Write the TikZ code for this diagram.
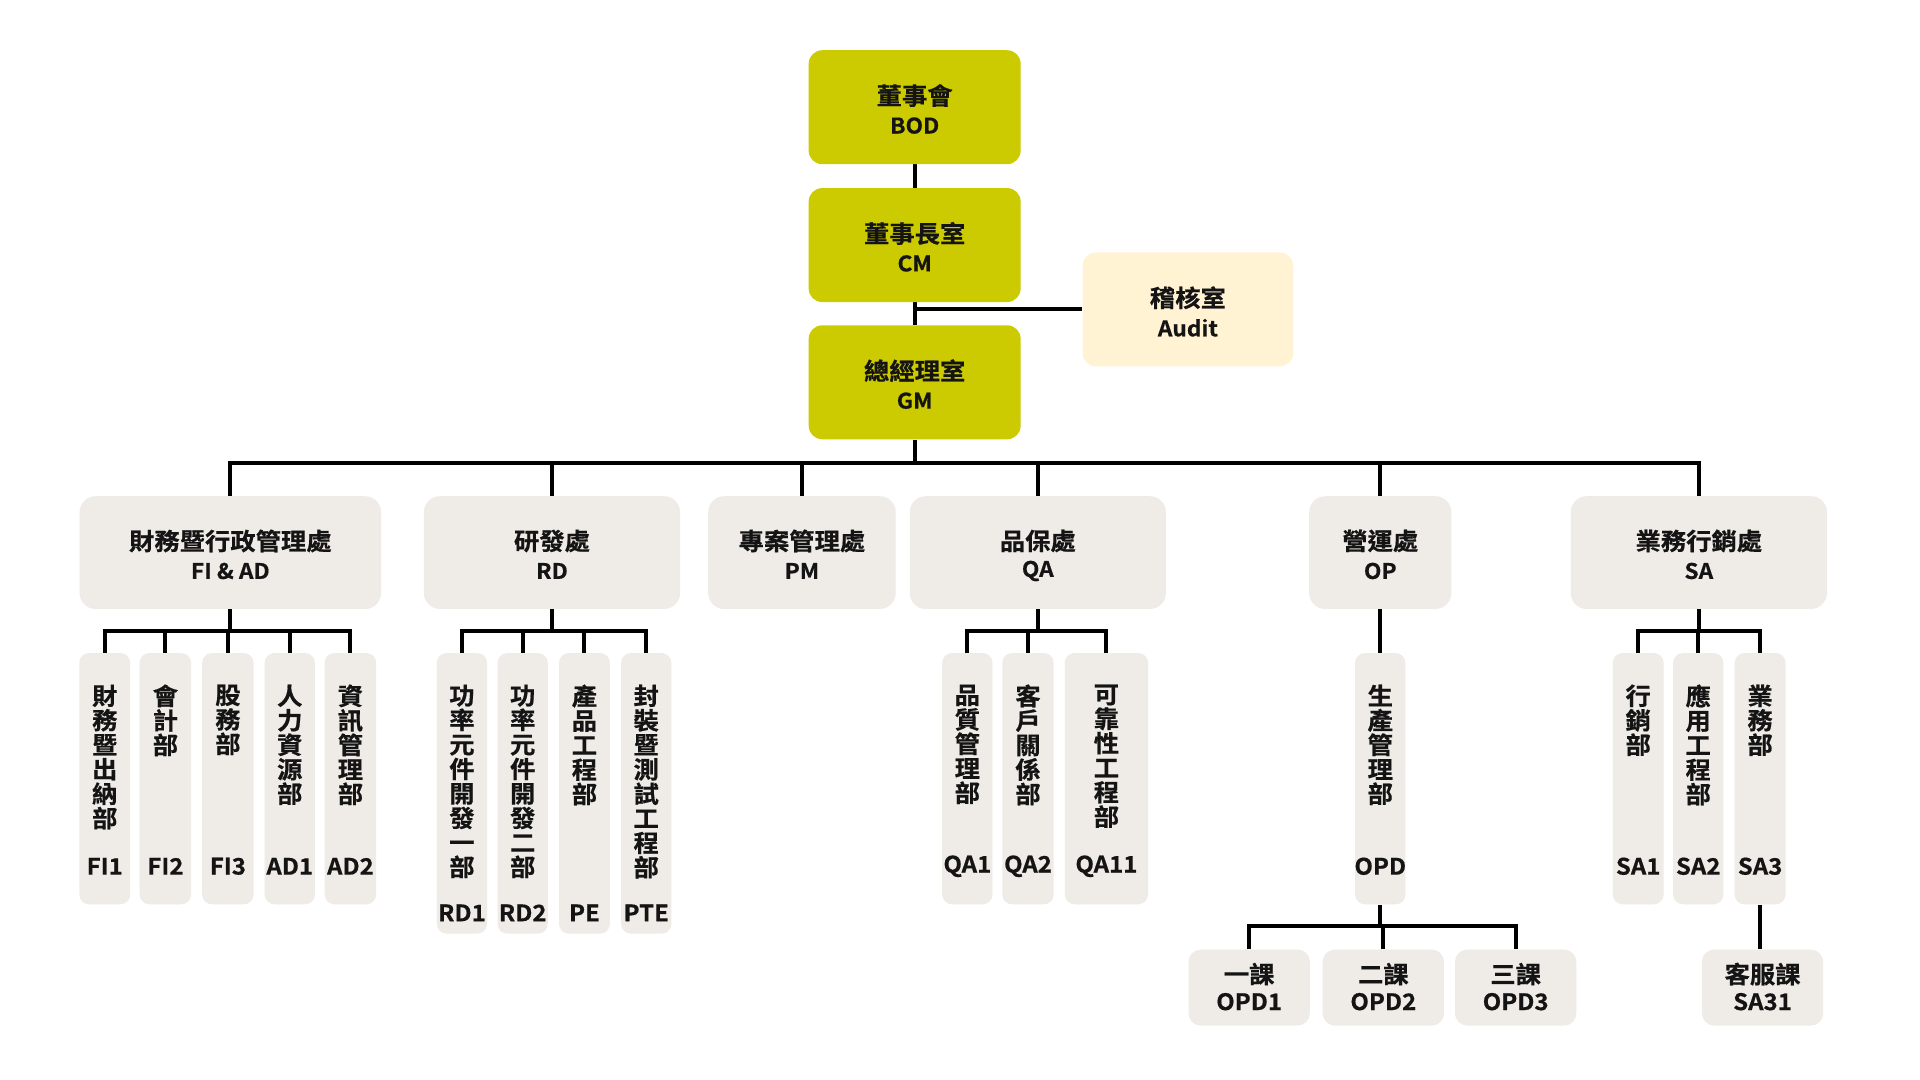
\documentclass[tikz,border=0pt]{standalone}
\usepackage{fontspec}
\newfontfamily\bcjk{Noto Sans CJK TC Bold}[FakeStretch=1.06, FakeBold=0.6]
\definecolor{topcol}{RGB}{204,202,0}
\definecolor{boxcol}{RGB}{239,235,230}
\definecolor{auditcol}{RGB}{255,243,212}
\definecolor{ink}{RGB}{20,20,20}
\pgfdeclarelayer{bg}
\pgfsetlayers{bg,main}
\tikzset{
  lvlone/.style={fill=topcol, rounded corners=11pt, inner sep=0pt},
  auditbox/.style={fill=auditcol, rounded corners=11pt, inner sep=0pt},
  lvltwo/.style={fill=boxcol, rounded corners=13pt, inner sep=0pt},
  subthree/.style={fill=boxcol, rounded corners=8pt, inner sep=0pt},
  subfour/.style={fill=boxcol, rounded corners=10pt, inner sep=0pt, minimum width=99pt, minimum height=62pt},
  zhtxt/.style={font=\bcjk\fontsize{19.5}{20}\selectfont, inner sep=0pt, text=ink},
  entxt/.style={font=\bcjk\fontsize{17.5}{20}\selectfont, inner sep=0pt, text=ink},
  codetxt/.style={font=\bcjk\fontsize{18.5}{20}\selectfont, inner sep=0pt, text=ink},
  vtxt/.style={font=\bcjk\fontsize{19.5}{20}\selectfont, inner sep=0pt, align=center, text=ink},
  conn/.style={line width=3.2pt, draw=black}
}
% name, style, x, y, w, h, zh, en
\newcommand\orgunit[8]{%
  \node[#2, minimum width=#5pt, minimum height=#6pt] (#1) at (#3,#4) {};
  \node[zhtxt] (#1-zh) at ([yshift=9.5pt]#1.center) {#7};
  \node[entxt] (#1-en) at ([yshift=-15pt]#1.center) {#8};}
% name, x, w, cy, h, chars, code, codey
\newcommand\vdept[8]{%
  \node[subthree, minimum width=#3pt, minimum height=#5pt] (#1) at (#2,#4) {};
  \node[vtxt, anchor=north] (#1-zh) at (#2,558.5) {#6};
  \node[codetxt] (#1-en) at (#2,#8) {#7};}
% name, x, zh, en
\newcommand\sect[4]{%
  \node[subfour] (#1) at (#2,806) {};
  \node[zhtxt] (#1-zh) at ([yshift=11pt]#1.center) {#3};
  \node[codetxt] (#1-en) at ([yshift=-11.5pt]#1.center) {#4};}
\begin{document}
\begin{tikzpicture}[x=1pt,y=-1pt]
\begin{pgfonlayer}{bg}
\fill[white] (0,0) rectangle (1567,881.4);
\end{pgfonlayer}
\useasboundingbox (0,0) rectangle (1567,881.4);

% level 1
\orgunit{bod}{lvlone}{746.5}{87.5}{173}{93}{董事會}{BOD}
\orgunit{cm}{lvlone}{746.5}{200}{173}{93}{董事長室}{CM}
\orgunit{gm}{lvlone}{746.5}{312}{173}{93}{總經理室}{GM}
\orgunit{audit}{auditbox}{969.5}{252.5}{172}{93}{稽核室}{Audit}

% level 2
\orgunit{fiad}{lvltwo}{188}{451}{246}{92}{財務暨行政管理處}{FI \& AD}
\orgunit{rd}{lvltwo}{450.5}{451}{209}{92}{研發處}{RD}
\orgunit{pm}{lvltwo}{654.5}{451}{153}{92}{專案管理處}{PM}
\orgunit{qa}{lvltwo}{847}{451}{209}{92}{品保處}{QA}
\orgunit{op}{lvltwo}{1126.5}{451}{116}{92}{營運處}{OP}
\orgunit{sa}{lvltwo}{1386.5}{451}{209}{92}{業務行銷處}{SA}

% level 3
\vdept{fi1}{85.5}{41.5}{635.5}{205}{財\\務\\暨\\出\\納\\部}{FI1}{707}
\vdept{fi2}{135}{42}{635.5}{205}{會\\計\\部}{FI2}{707}
\vdept{fi3}{186}{42}{635.5}{205}{股\\務\\部}{FI3}{707}
\vdept{ad1}{236.5}{41}{635.5}{205}{人\\力\\資\\源\\部}{AD1}{707}
\vdept{ad2}{286}{42}{635.5}{205}{資\\訊\\管\\理\\部}{AD2}{707}

\vdept{rd1}{377}{41}{647.5}{229}{功\\率\\元\\件\\開\\發\\一\\部}{RD1}{745}
\vdept{rd2}{426.6}{41}{647.5}{229}{功\\率\\元\\件\\開\\發\\二\\部}{RD2}{745}
\vdept{pe}{477}{41.5}{647.5}{229}{產\\品\\工\\程\\部}{PE}{745}
\vdept{pte}{527.4}{41}{647.5}{229}{封\\裝\\暨\\測\\試\\工\\程\\部}{PTE}{745}

\vdept{qa1}{789.5}{41}{635.5}{205}{品\\質\\管\\理\\部}{QA1}{707}
\vdept{qa2}{839}{42}{635.5}{205}{客\\戶\\關\\係\\部}{QA2}{707}
\vdept{qa11}{903}{68}{635.5}{205}{可\\靠\\性\\工\\程\\部}{QA11}{707}

\vdept{opd}{1126.5}{41}{635.5}{205}{生\\產\\管\\理\\部}{OPD}{707}

\vdept{sa1}{1337}{41.5}{635.5}{205}{行\\銷\\部}{SA1}{707}
\vdept{sa2}{1386}{41}{635.5}{205}{應\\用\\工\\程\\部}{SA2}{707}
\vdept{sa3}{1436.5}{41.5}{635.5}{205}{業\\務\\部}{SA3}{707}

% level 4
\sect{opd1}{1019.5}{一課}{OPD1}
\sect{opd2}{1129}{二課}{OPD2}
\sect{opd3}{1237}{三課}{OPD3}
\sect{sa31}{1438.5}{客服課}{SA31}

% connectors
\coordinate (bus) at (746.5,378);
\coordinate (fibr) at (188,515);
\coordinate (rdbr) at (450.5,515);
\coordinate (qabr) at (847,515);
\coordinate (sabr) at (1386.5,515);
\coordinate (opdbr) at (1126.5,756);
\begin{pgfonlayer}{bg}
\draw[conn] (bod.south) -- (cm.north);
\draw[conn] (cm.south) -- (gm.north);
\draw[conn] (audit.west) -- (audit.west -| cm.south);
\draw[conn] (gm.south) -- (bus);
\foreach \n in {fiad,rd,pm,qa,op,sa} \draw[conn] (\n.north) |- (bus);
\draw[conn] (fiad.south) -- (fibr);
\foreach \n in {fi1,fi2,fi3,ad1,ad2} \draw[conn] (\n.north) |- (fibr);
\draw[conn] (rd.south) -- (rdbr);
\foreach \n in {rd1,rd2,pe,pte} \draw[conn] (\n.north) |- (rdbr);
\draw[conn] (qa.south) -- (qabr);
\foreach \n in {qa1,qa2,qa11} \draw[conn] (\n.north) |- (qabr);
\draw[conn] (sa.south) -- (sabr);
\foreach \n in {sa1,sa2,sa3} \draw[conn] (\n.north) |- (sabr);
\draw[conn] (op.south) -- (opd.north);
\draw[conn] (opd.south) -- (opdbr);
\foreach \n in {opd1,opd2,opd3} \draw[conn] (\n.north) |- (opdbr);
\draw[conn] (sa3.south) -- (sa3.south |- sa31.north);
\end{pgfonlayer}
\end{tikzpicture}
\end{document}
